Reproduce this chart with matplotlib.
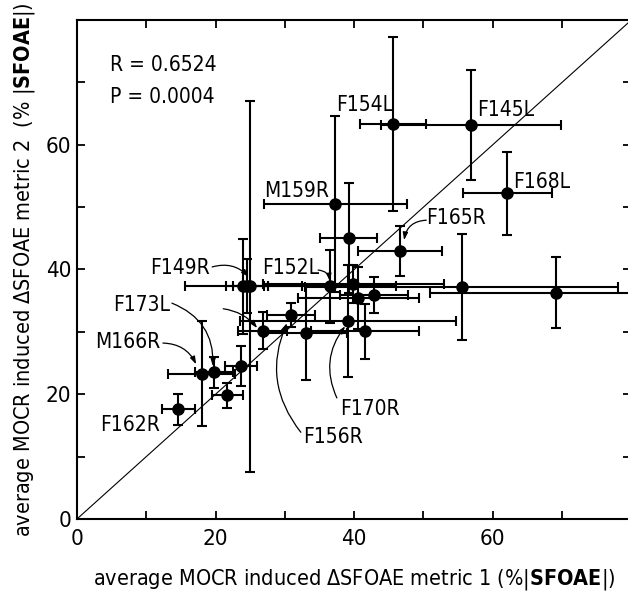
import matplotlib
matplotlib.use('Agg')
import matplotlib.pyplot as plt

plt.rcParams['font.family'] = ['DejaVu Sans']
plt.rcParams['font.stretch'] = 'condensed'
plt.rcParams['mathtext.fontset'] = 'custom'
plt.rcParams['mathtext.rm'] = 'DejaVu Sans:stretch=condensed'
plt.rcParams['mathtext.bf'] = 'DejaVu Sans:bold:stretch=condensed'

# mean MOCR effect per ear, metric 1 vs metric 2, with spreads
metric1 = [14.6, 18.0, 19.8, 21.7, 23.7, 24.0, 25.0, 24.5, 26.8, 30.9, 33.0, 36.5, 37.3,
           39.2, 39.9, 40.6, 42.8, 39.1, 41.6, 46.6, 55.5, 69.1, 45.6, 56.9, 62.1]
metric2 = [17.6, 23.3, 23.5, 19.8, 24.5, 37.3, 37.3, 37.3, 30.2, 32.7, 29.8, 37.3, 50.5,
           45.0, 37.7, 35.4, 35.9, 31.7, 30.1, 43.0, 37.2, 36.3, 63.3, 63.1, 52.2]
err1 = [2.4, 4.8, 2.7, 2.2, 2.3, 8.4, 2.5, 3.0, 3.5, 3.5, 6.0, 9.5, 10.3,
        4.1, 13.0, 8.7, 4.9, 15.6, 7.8, 6.1, 22.6, 18.1, 4.8, 13.0, 6.4]
err2 = [2.5, 8.4, 2.5, 2.0, 3.2, 7.6, 29.7, 4.3, 3.0, 2.0, 7.5, 5.9, 14.1,
        8.8, 3.0, 5.0, 2.9, 9.0, 4.4, 4.0, 8.5, 5.7, 14.0, 8.8, 6.6]

# subject labels: text, text position, arrow target (None = no arrow), curvature
labels = ['F154L', 'F145L', 'M159R', 'F168L', 'F165R', 'F149R', 'F152L',
          'F173L', 'M166R', 'F162R', 'F170R', 'F156R', '']
label_xy = [(37.4, 66.3), (57.7, 65.5), (27.0, 52.5), (62.9, 54.1), (50.4, 48.2),
            (19.2, 40.2), (26.65, 40.2), (13.4, 34.3), (12.0, 28.4), (12.0, 15.1),
            (38.0, 17.7), (32.7, 13.2), (21.1, 33.7)]
label_ha = ['left', 'left', 'left', 'left', 'left', 'right', 'left',
            'right', 'right', 'right', 'left', 'left', 'left']
arrow_tail = [None, None, None, None, (50.4, 47.9), (19.5, 40.4), (34.8, 39.9),
              (13.7, 34.6), (12.4, 28.2), None, (37.5, 19.4), (32.3, 13.9), (21.1, 33.7)]
arrow_head = [None, None, None, None, (47.2, 44.7), (24.8, 38.8), (36.5, 38.1),
              (19.6, 24.5), (17.2, 24.8), None, (38.7, 30.9), (30.3, 31.4), (26.0, 30.6)]
arrow_rad = [0, 0, 0, 0, 0.4, -0.3, -0.4, -0.35, -0.3, 0, -0.3, -0.3, -0.2]

fig = plt.figure(figsize=(6.28, 5.94), dpi=100)
ax = fig.add_axes([0.1226, 0.1263, 0.8828, 0.8401])

ax.plot([0, 80], [0, 80], color='k', lw=0.8)
ax.errorbar(metric1, metric2, xerr=err1, yerr=err2, fmt='o', color='k', ms=8,
            elinewidth=1.5, capsize=3.5, capthick=1.5)

for i, txt in enumerate(labels):
    if txt:
        ax.text(label_xy[i][0], label_xy[i][1], txt, fontsize=15,
                ha=label_ha[i], va='center')
    if arrow_tail[i] is not None:
        ax.annotate('', xy=arrow_head[i], xytext=arrow_tail[i],
                    arrowprops=dict(arrowstyle='-|>,head_length=0.45,head_width=0.15',
                                    color='k', lw=0.9, shrinkA=0, shrinkB=0,
                                    connectionstyle='arc3,rad=%s' % arrow_rad[i]))

ax.text(4.76, 72.8, 'R = 0.6524', fontsize=15, va='center')
ax.text(4.76, 67.7, 'P = 0.0004', fontsize=15, va='center')

ax.set_xlim(0, 80)
ax.set_ylim(0, 80)
ax.set_xticks([0, 20, 40, 60])
ax.set_yticks([0, 20, 40, 60])
ax.set_xticks([10, 30, 50, 70], minor=True)
ax.set_yticks([10, 30, 50, 70], minor=True)
ax.tick_params(which='both', direction='in', top=True, right=True,
               length=6, width=1.3, labelsize=16)
ax.tick_params(axis='x', pad=7)
ax.tick_params(axis='y', pad=4)
for s in ax.spines.values():
    s.set_linewidth(1.5)

ax.set_xlabel(r'average MOCR induced ΔSFOAE metric 1 (%|$\mathbf{SFOAE}$|)',
              fontsize=15.5, labelpad=13)
ax.set_ylabel(r'average MOCR induced ΔSFOAE metric 2  (% |$\mathbf{SFOAE}$|)',
              fontsize=15.5, labelpad=6)

fig.savefig('out.png', dpi=100)
